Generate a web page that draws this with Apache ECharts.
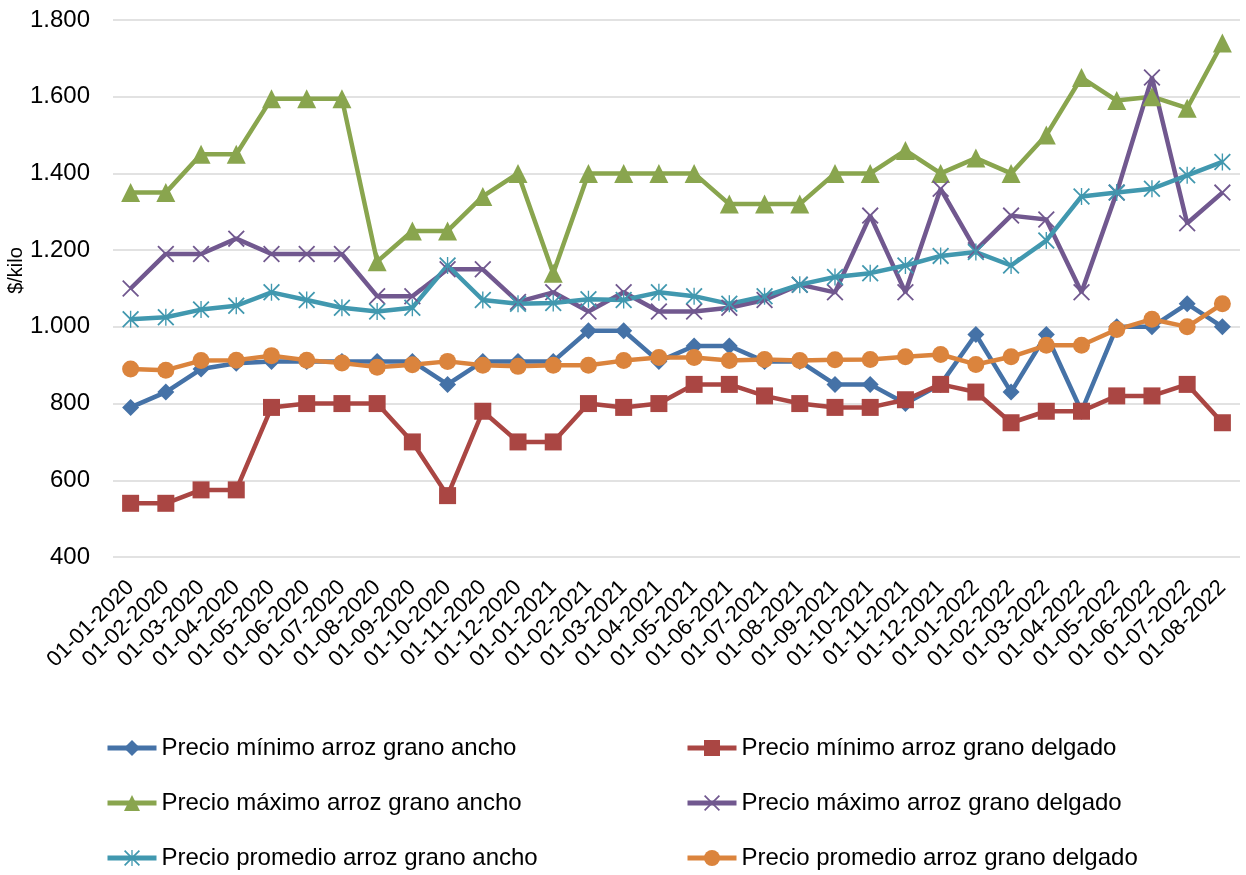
<!DOCTYPE html>
<html>
<head>
<meta charset="utf-8">
<script src="https://cdn.jsdelivr.net/npm/echarts@6/dist/echarts.min.js"></script>
<style>
  html, body { margin: 0; padding: 0; background: #fff; }
  #echart { width: 1246px; height: 875px; }
</style>
</head>
<body>
<div id="echart"></div>
<script>
// fechas (primer dia de cada mes)
const fechas = [
  '01-01-2020', '01-02-2020', '01-03-2020', '01-04-2020', '01-05-2020', '01-06-2020',
  '01-07-2020', '01-08-2020', '01-09-2020', '01-10-2020', '01-11-2020', '01-12-2020',
  '01-01-2021', '01-02-2021', '01-03-2021', '01-04-2021', '01-05-2021', '01-06-2021',
  '01-07-2021', '01-08-2021', '01-09-2021', '01-10-2021', '01-11-2021', '01-12-2021',
  '01-01-2022', '01-02-2022', '01-03-2022', '01-04-2022', '01-05-2022', '01-06-2022',
  '01-07-2022', '01-08-2022'
]

// $/kilo
const minAncho = [790, 830, 890, 905, 910, 910, 910, 910, 910, 850, 910, 910, 910, 990, 990, 910,
  950, 950, 910, 910, 850, 850, 800, 850, 980, 830, 980, 780, 1000, 1000, 1060, 1000]
const minDelgado = [540, 540, 575, 575, 790, 800, 800, 800, 700, 560, 780, 700, 700, 800, 790, 800,
  850, 850, 820, 800, 790, 790, 810, 850, 830, 750, 780, 780, 820, 820, 850, 750]
const maxAncho = [1350, 1350, 1450, 1450, 1595, 1595, 1595, 1170, 1250, 1250, 1340, 1400, 1140, 1400, 1400, 1400,
  1400, 1320, 1320, 1320, 1400, 1400, 1460, 1400, 1440, 1400, 1500, 1650, 1590, 1600, 1570, 1740]
const maxDelgado = [1100, 1190, 1190, 1230, 1190, 1190, 1190, 1080, 1080, 1150, 1150, 1065, 1090, 1040, 1090, 1040,
  1040, 1050, 1070, 1110, 1090, 1290, 1090, 1360, 1200, 1290, 1280, 1090, 1350, 1650, 1270, 1350]
const promAncho = [1020, 1025, 1045, 1055, 1090, 1070, 1050, 1040, 1050, 1160, 1070, 1060, 1062, 1072, 1070, 1090,
  1080, 1060, 1080, 1110, 1130, 1140, 1160, 1185, 1195, 1160, 1225, 1340, 1350, 1360, 1395, 1430]
const promDelgado = [890, 887, 912, 913, 925, 913, 906, 895, 901, 910, 900, 897, 900, 900, 912, 920,
  920, 912, 915, 912, 914, 915, 922, 928, 902, 922, 952, 952, 993, 1020, 1000, 1060]

const nombres = [
  'Precio mínimo arroz grano ancho',
  'Precio mínimo arroz grano delgado',
  'Precio máximo arroz grano ancho',
  'Precio máximo arroz grano delgado',
  'Precio promedio arroz grano ancho',
  'Precio promedio arroz grano delgado'
]

// marcadores x y asterisco hechos como poligonos
const cruz = 'path://M0,1.5L1.5,0L20,18.5L18.5,20ZM18.5,0L20,1.5L1.5,20L0,18.5Z'
const asterisco = 'path://M0,1.5L1.5,0L20,18.5L18.5,20ZM18.5,0L20,1.5L1.5,20L0,18.5ZM9.2,0L10.8,0L10.8,20L9.2,20Z'

function serie (nombre, datos, color, simbolo, tam) {
  return {
    name: nombre,
    type: 'line',
    data: datos,
    symbol: simbolo,
    symbolSize: tam,
    showAllSymbol: true,
    lineStyle: { color: color, width: 4.5 },
    itemStyle: { color: color },
    emphasis: { disabled: true }
  }
}

function miles (v) {
  return String(v).replace(/\B(?=(\d{3})+(?!\d))/g, '.')
}

const leyenda = {
  orient: 'vertical',
  top: 736,
  padding: 0,
  itemWidth: 49,
  itemHeight: 20,
  itemGap: 31,
  lineStyle: { width: 5 },
  textStyle: { fontSize: 24, color: '#000', lineHeight: 24 }
}

const myChart = echarts.init(document.getElementById('echart'))
myChart.setOption({
  animation: false,
  textStyle: { fontFamily: 'Liberation Sans, Arial, sans-serif' },
  grid: { left: 113, right: 6, top: 20, bottom: 318, outerBoundsMode: 'none' },
  legend: [
    Object.assign({}, leyenda, { data: [nombres[0], nombres[2], nombres[4]], left: 105 }),
    Object.assign({}, leyenda, { data: [nombres[1], nombres[3], nombres[5]], left: 685 })
  ],
  xAxis: {
    type: 'category',
    data: fechas,
    boundaryGap: true,
    axisLine: { show: false },
    axisTick: { show: false },
    axisLabel: {
      interval: 0,
      rotate: 45,
      fontSize: 22,
      color: '#000',
      margin: 27,
      verticalAlign: 'middle'
    }
  },
  yAxis: {
    type: 'value',
    min: 400,
    max: 1800,
    interval: 200,
    name: '$/kilo',
    nameLocation: 'middle',
    nameRotate: 90,
    nameGap: 87,
    nameMoveOverlap: false,
    nameTextStyle: { fontSize: 20, color: '#000', padding: [0, 0, 0, 36] },
    axisLine: { show: false },
    axisTick: { show: false },
    axisLabel: { fontSize: 24, color: '#000', margin: 23, formatter: miles },
    splitLine: { lineStyle: { color: '#D9D9D9', width: 1.5 } }
  },
  series: [
    serie(nombres[0], minAncho, '#4572A7', 'diamond', [17, 17]),
    serie(nombres[1], minDelgado, '#AA4643', 'rect', 17),
    serie(nombres[2], maxAncho, '#89A54E', 'triangle', 19),
    serie(nombres[3], maxDelgado, '#71588F', cruz, 17),
    serie(nombres[4], promAncho, '#4198AF', asterisco, 17),
    serie(nombres[5], promDelgado, '#DB843D', 'circle', 17)
  ]
})
</script>
</body>
</html>
